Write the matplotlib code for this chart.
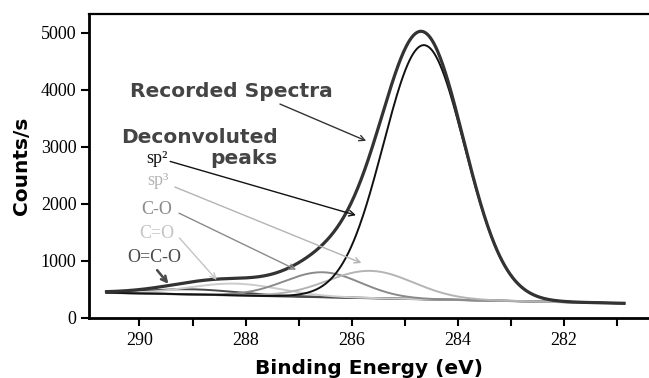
import numpy as np
import matplotlib.pyplot as plt

# peak parameters (height above background)
peak_names = ['sp2', 'sp3', 'C-O', 'C=O', 'O=C-O']
peak_centers = [284.64, 285.65, 286.55, 288.2, 289.0]
peak_heights = [4457, 478, 436, 205, 90]
peak_fwhm = [1.8, 1.9, 1.7, 2.0, 2.0]
peak_colors = ['#111111', '#b4b4b4', '#8a8a8a', '#cccccc', '#4a4a4a']

# linear background end points
bg_energy = [290.62, 280.87]
bg_counts = [444, 258]

x_ticks = [290, 288, 286, 284, 282]
y_ticks = [0, 1000, 2000, 3000, 4000, 5000]

energy = np.linspace(bg_energy[0], bg_energy[1], 600)
bg = np.interp(energy, bg_energy[::-1], bg_counts[::-1])


def gauss(x, c, h, w):
    return h * np.exp(-4 * np.log(2) * ((x - c) / w) ** 2)


comps = [gauss(energy, c, h, w) for c, h, w in zip(peak_centers, peak_heights, peak_fwhm)]
recorded = bg + np.sum(comps, axis=0)

fig = plt.figure(figsize=(6.49, 3.78), dpi=100)
ax = fig.add_axes([89 / 649, 60 / 378, 560 / 649, 304 / 378])

ax.plot(energy, bg, color='#444444', lw=1.6)
for comp, col in zip(comps[::-1], peak_colors[::-1]):
    ax.plot(energy, bg + comp, color=col, lw=1.4)
ax.plot(energy, recorded, color='#333333', lw=2.3)

ax.set_xlim(290.95, 280.4)
ax.set_ylim(0, 5333)
ax.set_xticks(x_ticks)
ax.set_xticks([289, 287, 285, 283, 281], minor=True)
ax.set_yticks(y_ticks)
ax.tick_params(axis='both', which='both', direction='out', width=1.5, length=6, pad=3)
ax.tick_params(axis='x', pad=4)
for lab in ax.get_xticklabels() + ax.get_yticklabels():
    lab.set_fontfamily('Liberation Serif')
    lab.set_fontsize(13)

ax.spines['right'].set_visible(False)
ax.spines['left'].set_linewidth(2)
ax.spines['bottom'].set_linewidth(2)
ax.spines['top'].set_linewidth(1.6)

ax.set_xlabel('Binding Energy (eV)', fontsize=14.5, fontweight='bold', labelpad=7)
ax.set_ylabel('Counts/s', fontsize=14.5, fontweight='bold', labelpad=7)

# annotations
txt_col = '#444444'
ax.text(290.17, 3965, 'Recorded Spectra', fontsize=14.5, fontweight='bold', color=txt_col,
        ha='left', va='center')
ax.annotate('', xy=(285.68, 3088), xytext=(287.40, 3772),
            arrowprops=dict(arrowstyle='->', color='#333333', lw=1.0))
ax.text(287.40, 3175, 'Deconvoluted', fontsize=14.5, fontweight='bold', color=txt_col,
        ha='right', va='center')
ax.text(287.40, 2790, 'peaks', fontsize=14.5, fontweight='bold', color=txt_col,
        ha='right', va='center')

labels = [('sp²', (289.87, 2790), (289.47, 2760), (285.87, 1789), '#111111', 1.0),
          ('sp³', (289.85, 2404), (289.38, 2316), (285.77, 947), '#b4b4b4', 1.0),
          ('C-O', (289.96, 1912), (289.30, 1860), (287.0, 825), '#8a8a8a', 1.0),
          ('C=O', (290.0, 1491), (289.28, 1439), (288.51, 632), '#c4c4c4', 1.0),
          ('O=C-O', (290.23, 1053), (289.70, 877), (289.42, 561), '#4a4a4a', 1.8)]
for s, tpos, a0, a1, col, lw in labels:
    ax.text(tpos[0], tpos[1], s, fontsize=13, family='Liberation Serif', color=col,
            ha='left', va='center')
    ax.annotate('', xy=a1, xytext=a0,
                arrowprops=dict(arrowstyle='->', color=col, lw=lw))

fig.savefig('out.png', dpi=100)
